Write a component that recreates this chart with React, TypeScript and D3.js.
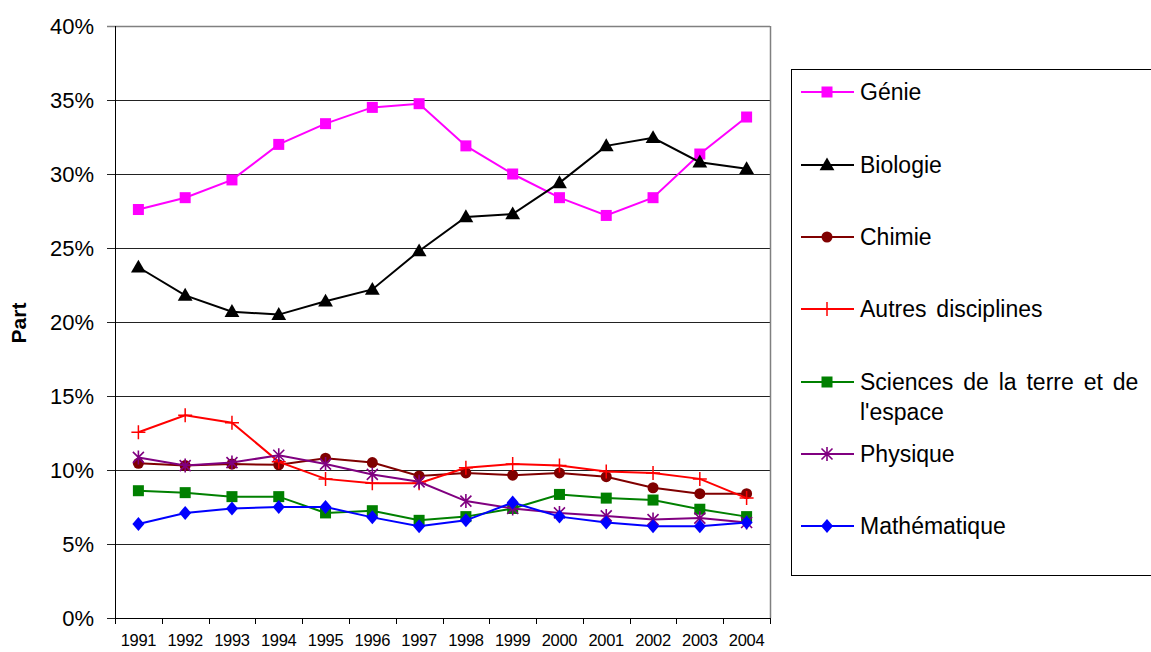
import React from "react";
import * as d3 from "d3";

const years = ["1991","1992","1993","1994","1995","1996","1997","1998","1999","2000","2001","2002","2003","2004"];
const genie = [27.6,28.4,29.6,32.0,33.4,34.5,34.75,31.9,30.0,28.4,27.2,28.4,31.35,33.85];
const biologie = [23.7,21.8,20.7,20.5,21.4,22.2,24.8,27.1,27.3,29.4,31.9,32.45,30.8,30.35];
const chimie = [10.45,10.3,10.4,10.35,10.8,10.5,9.6,9.8,9.65,9.8,9.55,8.8,8.4,8.4];
const autres = [12.55,13.7,13.2,10.55,9.4,9.1,9.1,10.15,10.4,10.3,9.9,9.8,9.4,8.1];
const sciences = [8.6,8.47,8.2,8.2,7.1,7.25,6.6,6.85,7.4,8.35,8.1,7.97,7.35,6.85];
const physique = [10.85,10.3,10.5,11.0,10.4,9.7,9.2,7.9,7.4,7.1,6.9,6.65,6.75,6.45];
const math = [6.35,7.1,7.4,7.5,7.5,6.8,6.2,6.6,7.8,6.85,6.45,6.2,6.2,6.45];
const yTicks = [0,5,10,15,20,25,30,35,40];

const seriesNames = ["Génie","Biologie","Chimie","Autres disciplines","Sciences de la terre et de|l'espace","Physique","Mathématique"];
const seriesValues = [genie, biologie, chimie, autres, sciences, physique, math];
const seriesColors = ["#FF00FF","#000000","#800000","#FF0000","#008000","#800080","#0000FF"];
const seriesMarkers = ["square","triangle","circle","plus","square","star","diamond"];

const left = 115, right = 770, top = 26, bottom = 618;

function Marker({ type, x, y, color }: { type: string; x: number; y: number; color: string }) {
  if (type === "square") {
    return <rect x={x - 5.5} y={y - 5.5} width={11} height={11} fill={color} />;
  }
  if (type === "circle") {
    return <circle cx={x} cy={y} r={5.5} fill={color} />;
  }
  if (type === "triangle") {
    const p = d3.symbol(d3.symbolTriangle, 95)();
    return <path d={p || ""} transform={`translate(${x},${y + 1})`} fill={color} />;
  }
  if (type === "diamond") {
    return <path d={`M${x},${y - 7}L${x + 6},${y}L${x},${y + 7}L${x - 6},${y}Z`} fill={color} />;
  }
  if (type === "plus") {
    return <path d={`M${x - 7},${y}H${x + 7}M${x},${y - 7}V${y + 7}`} stroke={color} strokeWidth={1.5} fill="none" />;
  }
  if (type === "star") {
    return (
      <path
        d={`M${x - 5.5},${y - 5.5}L${x + 5.5},${y + 5.5}M${x + 5.5},${y - 5.5}L${x - 5.5},${y + 5.5}M${x},${y - 7}V${y + 7}`}
        stroke={color}
        strokeWidth={1.6}
        fill="none"
      />
    );
  }
  return null;
}

export default function App() {
  const x = d3.scaleBand<string>().domain(years).range([left, right]);
  const y = d3.scaleLinear().domain([0, 40]).range([bottom, top]);
  const cx = (yr: string) => (x(yr) as number) + x.bandwidth() / 2;
  const line = d3
    .line<number>()
    .x((_, i) => cx(years[i]))
    .y((d) => y(d));

  const legendRows = [92, 165, 237, 309, 382, 454, 526];

  return (
    <svg
      width={1151}
      height={652}
      style={{ position: "absolute", left: 0, top: 0, background: "#fff" }}
      fontFamily="Liberation Sans, Arial, sans-serif"
    >
      {yTicks.map((t) => (
        <line
          key={t}
          x1={left - 8}
          x2={right}
          y1={Math.round(y(t)) + 0.5}
          y2={Math.round(y(t)) + 0.5}
          stroke={t === 40 ? "#808080" : "#222"}
          strokeWidth={t === 40 ? 1.5 : 1}
        />
      ))}
      <line x1={right + 0.5} x2={right + 0.5} y1={top} y2={bottom} stroke="#808080" strokeWidth={1.5} />
      <line x1={left + 0.5} x2={left + 0.5} y1={top} y2={bottom + 6} stroke="#000" strokeWidth={1} />
      <line x1={left} x2={right} y1={Math.round(y(0)) + 0.5} y2={Math.round(y(0)) + 0.5} stroke="#000" />
      {years.map((yr) => (
        <line
          key={"t" + yr}
          x1={Math.round(x(yr) as number) + 0.5}
          x2={Math.round(x(yr) as number) + 0.5}
          y1={bottom}
          y2={bottom + 6}
          stroke="#000"
        />
      ))}
      <line x1={right + 0.5} x2={right + 0.5} y1={bottom} y2={bottom + 6} stroke="#000" />
      {yTicks.map((t) => (
        <text key={"l" + t} x={94} y={y(t) + 8} textAnchor="end" fontSize={22} fill="#000">
          {t}%
        </text>
      ))}
      {years.map((yr) => (
        <text key={"x" + yr} x={cx(yr)} y={646} textAnchor="middle" fontSize={16.5} letterSpacing={-0.3} fill="#000">
          {yr}
        </text>
      ))}
      <text
        transform="translate(26,323) rotate(-90)"
        textAnchor="middle"
        fontSize={21}
        fontWeight="bold"
        fill="#000"
      >
        Part
      </text>
      {seriesValues.map((vals, si) => (
        <g key={"s" + si}>
          <path d={line(vals) || ""} fill="none" stroke={seriesColors[si]} strokeWidth={2} />
          {vals.map((v, i) => (
            <Marker key={i} type={seriesMarkers[si]} x={cx(years[i])} y={y(v)} color={seriesColors[si]} />
          ))}
        </g>
      ))}
      <rect x={791.5} y={69.5} width={400} height={506} fill="none" stroke="#000" strokeWidth={1} />
      {seriesNames.map((name, si) => {
        const ly = legendRows[si];
        const parts = name.split("|");
        return (
          <g key={"lg" + si}>
            <line x1={801} x2={854} y1={ly} y2={ly} stroke={seriesColors[si]} strokeWidth={2} />
            <Marker type={seriesMarkers[si]} x={827} y={ly} color={seriesColors[si]} />
            {parts.map((p, pi) => (
              <text key={pi} x={860} y={ly + 8 + pi * 30} fontSize={23} wordSpacing={3.5} fill="#000">
                {p}
              </text>
            ))}
          </g>
        );
      })}
    </svg>
  );
}
